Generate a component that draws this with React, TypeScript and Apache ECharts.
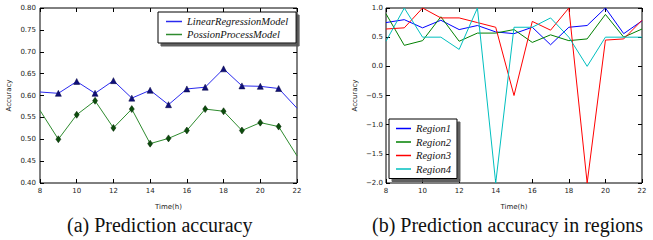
import React, { useEffect, useRef } from "react";
import * as echarts from "echarts";

const hours = [8, 9, 10, 11, 12, 13, 14, 15, 16, 17, 18, 19, 20, 21, 22];

const linearRegression = [0.608, 0.605, 0.632, 0.605, 0.634, 0.594, 0.612, 0.579, 0.615, 0.619, 0.661, 0.622, 0.621, 0.616, 0.571];
const possionProcess = [0.566, 0.5, 0.556, 0.588, 0.526, 0.569, 0.49, 0.502, 0.52, 0.569, 0.564, 0.52, 0.538, 0.529, 0.462];

const region1 = [0.75, 0.8, 0.66, 0.79, 0.63, 0.7, 0.59, 0.56, 0.67, 0.37, 0.67, 0.7, 1.0, 0.56, 0.78];
const region2 = [0.9, 0.36, 0.44, 0.85, 0.43, 0.57, 0.57, 0.63, 0.41, 0.54, 0.44, 0.47, 0.89, 0.5, 0.64];
const region3 = [0.64, 0.66, 1.0, 0.83, 0.83, 0.75, 0.67, -0.5, 0.77, 0.62, 1.0, -2.0, 0.45, 0.47, 0.79];
const region4 = [0.43, 1.0, 0.5, 0.5, 0.29, 1.0, -2.0, 0.67, 0.67, 0.83, 0.5, 0.0, 0.5, 0.5, 0.5];

const leftNames = ["LinearRegressionModel", "PossionProcessModel"];
const regionNames = ["Region1", "Region2", "Region3", "Region4"];
const captions = ["(a) Prediction accuracy", "(b) Prediction accuracy in regions"];

const pairs = (vals: number[]) => hours.map((h, i) => [h, vals[i]]);

const tickFont = { fontFamily: "DejaVu Sans", fontSize: 7, color: "#222" };

function xAxes(gridIndex: number) {
  const base = {
    type: "value" as const,
    gridIndex,
    min: 8,
    max: 22,
    interval: 2,
    splitLine: { show: false },
    axisLine: { show: false, onZero: false },
    axisTick: { show: true, inside: true, length: 4, lineStyle: { color: "#000", width: 1 } },
  };
  return [
    {
      ...base,
      position: "bottom",
      name: "Time(h)",
      nameLocation: "middle",
      nameGap: 20,
      nameTextStyle: { ...tickFont },
      axisLabel: { ...tickFont, margin: 4 },
    },
    { ...base, position: "top", axisLabel: { show: false } },
  ];
}

function yAxes(gridIndex: number, min: number, max: number, interval: number, digits: number, margin: number) {
  const base = {
    type: "value" as const,
    gridIndex,
    min,
    max,
    interval,
    splitLine: { show: false },
    axisLine: { show: false, onZero: false },
    axisTick: { show: true, inside: true, length: 4, lineStyle: { color: "#000", width: 1 } },
  };
  return [
    {
      ...base,
      position: "left",
      name: "Accuracy",
      nameLocation: "middle",
      nameGap: 28,
      nameRotate: 90,
      nameTextStyle: { ...tickFont },
      axisLabel: {
        ...tickFont,
        margin,
        formatter: (v: number) => v.toFixed(digits).replace("-", "\u2212"),
      },
    },
    { ...base, position: "right", axisLabel: { show: false } },
  ];
}

const legendText = { fontFamily: "Liberation Serif", fontStyle: "italic", fontSize: 10.5, color: "#111" };

export default function App() {
  const ref = useRef<HTMLDivElement>(null);
  useEffect(() => {
    document.body.style.margin = "0";
    if (!ref.current) return;
    const chart = echarts.init(ref.current, undefined, { renderer: "svg" });
    const lastIdx = hours.length - 1;
    const edgeSymbol = (sym: string) => (_v: any, p: any) =>
      p.dataIndex === 0 || p.dataIndex === lastIdx ? "none" : sym;

    const leftColors = ["#2a2aee", "#2e8b2e"];
    const regionColors = ["#0000ff", "#008000", "#ff0000", "#00bfbf"];

    const legendBase = {
      orient: "vertical",
      backgroundColor: "#fff",
      borderColor: "#000",
      borderWidth: 1,
      borderRadius: 0,
      shadowColor: "rgba(80,80,80,0.9)",
      shadowBlur: 0,
      shadowOffsetX: 3,
      shadowOffsetY: 3,
      selectedMode: false,
      itemHeight: 1.5,
      textStyle: legendText,
    };

    chart.setOption({
      animation: false,
      backgroundColor: "#fff",
      grid: [
        { left: 40, top: 8, width: 257, height: 175, show: true, borderColor: "#000", borderWidth: 1, backgroundColor: "transparent" },
        { left: 386, top: 8, width: 256, height: 175, show: true, borderColor: "#000", borderWidth: 1, backgroundColor: "transparent" },
      ],
      xAxis: [...xAxes(0), ...xAxes(1)],
      yAxis: [...yAxes(0, 0.4, 0.8, 0.05, 2, 4), ...yAxes(1, -2, 1, 0.5, 1, 3)],
      legend: [
        {
          ...legendBase,
          left: 158,
          top: 12,
          padding: [4, 8, 3, 8],
          itemGap: 2,
          itemWidth: 16,
          data: leftNames.map((n, i) => ({
            name: n,
            icon: "rect",
            itemStyle: { color: leftColors[i], borderWidth: 0, borderColor: "transparent" },
          })),
        },
        {
          ...legendBase,
          left: 389,
          top: 119,
          padding: [4, 6, 4, 7],
          itemGap: 2.5,
          itemWidth: 15,
          data: regionNames.map((n, i) => ({
            name: n,
            icon: "rect",
            itemStyle: { color: regionColors[i], borderWidth: 0, borderColor: "transparent" },
          })),
        },
      ],
      series: [
        {
          name: leftNames[0],
          type: "line",
          xAxisIndex: 0,
          yAxisIndex: 0,
          data: pairs(linearRegression),
          symbol: edgeSymbol("triangle"),
          symbolSize: 6,
          lineStyle: { color: leftColors[0], width: 1 },
          itemStyle: { color: "#10107a", borderColor: "#000040", borderWidth: 0.5 },
          emphasis: { disabled: true },
          z: 3,
        },
        {
          name: leftNames[1],
          type: "line",
          xAxisIndex: 0,
          yAxisIndex: 0,
          data: pairs(possionProcess),
          symbol: edgeSymbol("diamond"),
          symbolSize: [5, 7],
          lineStyle: { color: leftColors[1], width: 1 },
          itemStyle: { color: "#0c4d0c", borderColor: "#002000", borderWidth: 0.5 },
          emphasis: { disabled: true },
          z: 3,
        },
        ...[region1, region2, region3, region4].map((vals, i) => ({
          name: regionNames[i],
          type: "line",
          xAxisIndex: 2,
          yAxisIndex: 2,
          data: pairs(vals),
          symbol: "none",
          lineStyle: { color: regionColors[i], width: 1 },
          itemStyle: { color: regionColors[i] },
          emphasis: { disabled: true },
          z: 3,
        })),
      ],
      graphic: [
        {
          type: "text",
          left: 67,
          top: 215,
          style: { text: captions[0], fontFamily: "Liberation Serif", fontSize: 20, fill: "#111" },
        },
        {
          type: "text",
          left: 372,
          top: 215,
          style: { text: captions[1], fontFamily: "Liberation Serif", fontSize: 20, fill: "#111" },
        },
      ],
    });
    return () => chart.dispose();
  }, []);
  return <div ref={ref} style={{ width: 653, height: 240 }} />;
}
